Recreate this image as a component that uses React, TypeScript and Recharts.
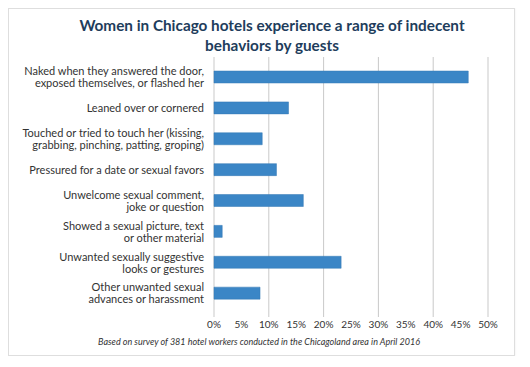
import React from "react";
import { BarChart, Bar, XAxis, YAxis, CartesianGrid } from "recharts";

const categories = [
  "Naked when they answered the door,\nexposed themselves, or flashed her",
  "Leaned over or cornered",
  "Touched or tried to touch her (kissing,\ngrabbing, pinching, patting, groping)",
  "Pressured for a date or sexual favors",
  "Unwelcome sexual comment,\njoke or question",
  "Showed a sexual picture, text\nor other material",
  "Unwanted sexually suggestive\nlooks or gestures",
  "Other unwanted sexual\nadvances or harassment",
];

const shares = [46.4, 13.6, 8.8, 11.4, 16.3, 1.5, 23.2, 8.4];

const xTicks = [0, 5, 10, 15, 20, 25, 30, 35, 40, 45, 50];

const titleLines = ["Women in Chicago hotels experience a range of indecent", "behaviors by guests"];
const footnote = "Based on survey of 381 hotel workers conducted in the Chicagoland area in April 2016";

const data = categories.map((label, i) => ({ label, value: shares[i] }));

const FONT = "Lato, 'Open Sans', sans-serif";

// y tick labels broken over two lines
const CategoryTick = (props: any) => {
  const { x, y, payload } = props;
  const lines = String(payload.value).split("\n");
  return (
    <text x={x} y={y} textAnchor="end" fill="#333" fontSize={11} fontFamily={FONT}>
      {lines.map((line, i) => (
        <tspan key={i} x={x} y={y + (i - (lines.length - 1) / 2) * 12} dy="0.35em">
          {line}
        </tspan>
      ))}
    </text>
  );
};

export default function App() {
  return (
    <div
      style={{
        position: "relative",
        width: 505,
        height: 346,
        border: "1px solid #dedede",
        boxShadow: "0 0 2px rgba(0,0,0,0.08)",
        background: "#fff",
        fontFamily: FONT,
      }}
    >
      <div
        style={{
          position: "absolute",
          top: 6,
          left: 20,
          width: 486,
          textAlign: "center",
          fontSize: 15.3,
          lineHeight: "20px",
          fontWeight: 700,
          color: "#1e3d5c",
          whiteSpace: "nowrap",
        }}
      >
        {titleLines[0]}
        <br />
        {titleLines[1]}
      </div>
      <BarChart
        width={505}
        height={346}
        data={data}
        layout="vertical"
        margin={{ top: 48, right: 26, bottom: 18, left: 5 }}
      >
        <CartesianGrid horizontal={false} stroke="#c9c9c9" />
        <XAxis
          type="number"
          domain={[0, 50]}
          ticks={xTicks}
          tickFormatter={(v) => `${v}%`}
          axisLine={false}
          tickLine={false}
          tickSize={0}
          tickMargin={4}
          height={20}
          tick={{ fill: "#333", fontSize: 10, fontFamily: FONT }}
        />
        <YAxis
          type="category"
          dataKey="label"
          width={200}
          axisLine={false}
          tickLine={false}
          tickSize={0}
          tickMargin={10}
          padding={{ top: 5, bottom: 8 }}
          tick={<CategoryTick />}
          interval={0}
        />
        <Bar dataKey="value" fill="#3b86c6" stroke="#3479b5" strokeWidth={0.5} barSize={12} isAnimationActive={false} />
      </BarChart>
      <div
        style={{
          position: "absolute",
          top: 327,
          left: 0,
          width: 500,
          textAlign: "center",
          fontSize: 9,
          lineHeight: "12px",
          fontStyle: "italic",
          color: "#333",
        }}
      >
        {footnote}
      </div>
    </div>
  );
}
